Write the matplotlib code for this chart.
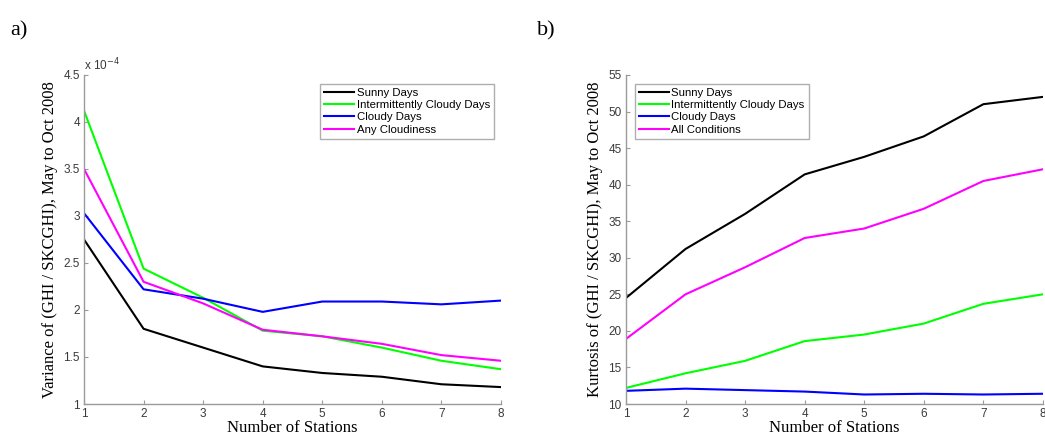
import matplotlib
matplotlib.use("Agg")
import matplotlib.pyplot as plt
from matplotlib.ticker import FuncFormatter

stations = [1, 2, 3, 4, 5, 6, 7, 8]

# variance of (GHI / SKCGHI)
var_sunny = [2.75e-4, 1.80e-4, 1.60e-4, 1.40e-4, 1.33e-4, 1.29e-4, 1.21e-4, 1.18e-4]
var_interm = [4.12e-4, 2.44e-4, 2.13e-4, 1.78e-4, 1.72e-4, 1.60e-4, 1.46e-4, 1.37e-4]
var_cloudy = [3.03e-4, 2.22e-4, 2.12e-4, 1.98e-4, 2.09e-4, 2.09e-4, 2.06e-4, 2.10e-4]
var_any = [3.50e-4, 2.30e-4, 2.07e-4, 1.79e-4, 1.72e-4, 1.64e-4, 1.52e-4, 1.46e-4]

# kurtosis of (GHI / SKCGHI)
kur_sunny = [24.5, 31.2, 36.0, 41.4, 43.8, 46.6, 51.0, 52.0]
kur_interm = [12.2, 14.2, 15.9, 18.6, 19.5, 21.0, 23.7, 25.0]
kur_cloudy = [11.8, 12.1, 11.9, 11.7, 11.3, 11.4, 11.3, 11.4]
kur_all = [18.9, 25.0, 28.7, 32.7, 34.0, 36.7, 40.5, 42.1]

labels_a = ["Sunny Days", "Intermittently Cloudy Days", "Cloudy Days", "Any Cloudiness"]
labels_b = ["Sunny Days", "Intermittently Cloudy Days", "Cloudy Days", "All Conditions"]
colors = ["#000000", "#00ff00", "#0000ff", "#ff00ff"]

sans = ["Liberation Sans", "DejaVu Sans"]
serif = ["Liberation Serif", "DejaVu Serif"]
gray = "#9a9a9a"
tcol = "#3a3a3a"

fig = plt.figure(figsize=(10.45, 4.37), dpi=100)
axa = fig.add_axes([0.0804, 0.0755, 0.399, 0.753])
axb = fig.add_axes([0.599, 0.0755, 0.399, 0.753])


def style(ax):
    for s in ["top", "right"]:
        ax.spines[s].set_visible(False)
    for s in ["left", "bottom"]:
        ax.spines[s].set_color(gray)
        ax.spines[s].set_linewidth(1.0)
    ax.tick_params(direction="in", length=3, color=gray, labelcolor=tcol,
                   labelsize=8.5, pad=3)
    for lab in ax.get_xticklabels() + ax.get_yticklabels():
        lab.set_family(sans)
    ax.set_xlim(1, 8)
    ax.set_xticks(stations)
    ax.set_xlabel("Number of Stations", family=serif, fontsize=12, labelpad=0)


def legend(ax, loc, anchor):
    leg = ax.legend(loc=loc, bbox_to_anchor=anchor, frameon=True, fancybox=False,
                    handlelength=2.6, handletextpad=0.25, borderpad=0.35,
                    labelspacing=0.2, prop={"family": sans, "size": 8.2})
    leg.get_frame().set_edgecolor(gray)
    leg.get_frame().set_linewidth(1.0)
    return leg


for ys, c, l in zip([var_sunny, var_interm, var_cloudy, var_any], colors, labels_a):
    axa.plot(stations, ys, color=c, lw=1.5, label=l)
axa.set_ylim(1e-4, 4.5e-4)
axa.set_yticks([1e-4, 1.5e-4, 2e-4, 2.5e-4, 3e-4, 3.5e-4, 4e-4, 4.5e-4])
axa.yaxis.set_major_formatter(FuncFormatter(lambda v, p: "%g" % round(v * 1e4, 2)))
style(axa)
axa.set_ylabel("Variance of (GHI / SKCGHI), May to Oct 2008", family=serif,
               fontsize=12, labelpad=4)
axa.text(0.0, 1.005, r"x 10$^{-4}$", transform=axa.transAxes, fontsize=8.5,
         color=tcol, family=sans, va="bottom", ha="left")
legend(axa, "upper right", (0.997, 0.99))

for ys, c, l in zip([kur_sunny, kur_interm, kur_cloudy, kur_all], colors, labels_b):
    axb.plot(stations, ys, color=c, lw=1.5, label=l)
axb.set_ylim(10, 55)
axb.set_yticks(range(10, 56, 5))
style(axb)
axb.set_ylabel("Kurtosis of (GHI / SKCGHI), May to Oct 2008", family=serif,
               fontsize=12, labelpad=4)
legend(axb, "upper left", (0.008, 0.99))

fig.text(10 / 1045, 1 - 31 / 437, "a)", family=serif, fontsize=16, va="center", ha="left")
fig.text(537 / 1045, 1 - 31 / 437, "b)", family=serif, fontsize=16, va="center", ha="left")

fig.savefig("out.png", dpi=100)
